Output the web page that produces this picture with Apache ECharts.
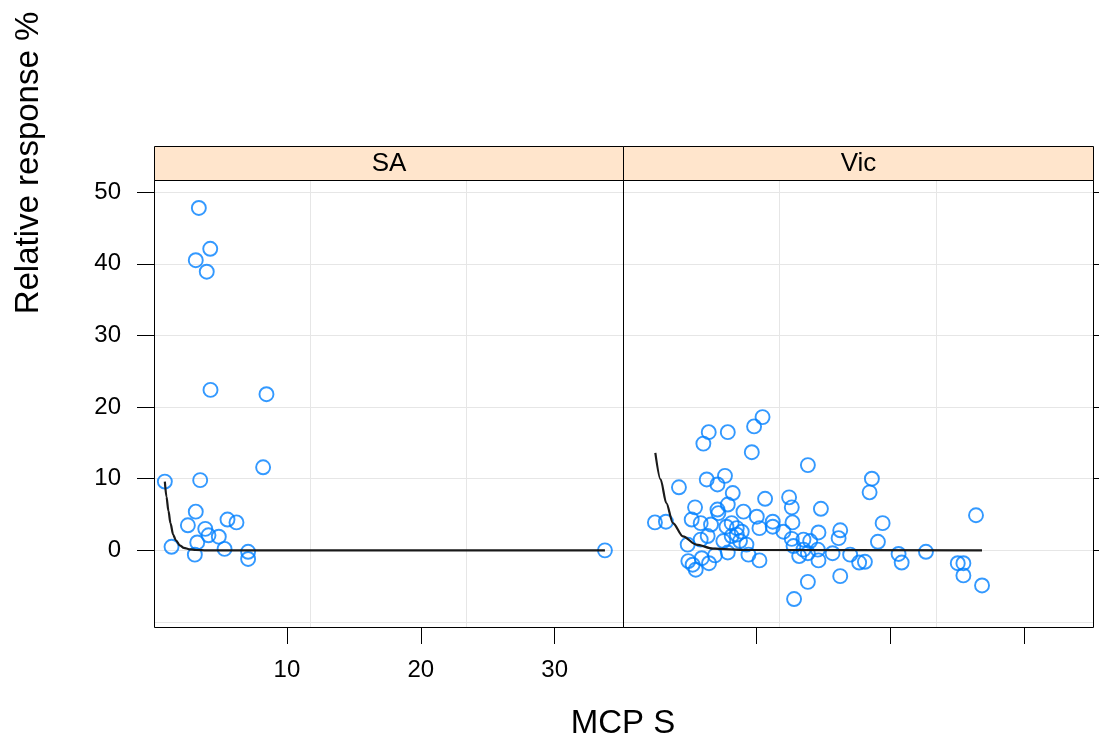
<!DOCTYPE html>
<html>
<head>
<meta charset="utf-8">
<script src="https://cdn.jsdelivr.net/npm/echarts@6/dist/echarts.min.js"></script>
<style>
  html, body { margin: 0; padding: 0; background: #ffffff; }
  #chart { width: 1099px; height: 746px; }
</style>
</head>
<body>
<div id="chart"></div>
<script>
// Panels (one per state)
const panels = ['SA', 'Vic'];

// Tick values
const xTicks = [10, 20, 30];
const yTicks = [0, 10, 20, 30, 40, 50];

// SA observations: MCP S vs relative response %
const saX = [3.42, 4.27, 3.19, 4.01, 4.29, 8.47, 8.22, 0.88, 3.52, 3.19, 2.6, 5.56,
             6.23, 3.9, 4.14, 4.91, 3.3, 1.38, 5.34, 3.12, 7.1, 7.1, 33.75];
const saY = [47.8, 42.1, 40.5, 38.9, 22.4, 21.8, 11.6, 9.6, 9.8, 5.4, 3.5, 4.3,
             3.9, 3.0, 2.1, 1.9, 1.1, 0.5, 0.2, -0.6, -0.2, -1.2, 0.0];

// Vic observations
const vicX = [10.47, 9.84, 6.46, 7.88, 6.06, 9.67, 13.85, 4.24, 6.31, 7.11, 7.67, 8.25,
              10.66, 12.45, 12.65, 14.82, 5.44, 7.88, 7.11, 7.18, 2.45, 3.27, 5.19, 5.86,
              6.63, 9.05, 10.04, 11.23, 12.70, 8.17, 8.55, 8.92, 10.24, 11.23, 12.03, 14.64,
              16.26, 16.14, 4.89, 6.38, 7.55, 8.17, 8.79, 8.55, 12.65, 13.52, 14.02, 12.78,
              13.52, 14.59, 15.69, 17.0, 7.88, 9.42, 10.24, 13.2, 13.85, 14.64, 4.94, 5.26,
              5.49, 5.94, 6.48, 6.93, 13.85, 16.26, 12.82, 17.67, 7.78, 5.86, 9.27,
              18.62, 18.45, 19.42, 19.07, 18.1, 20.61, 20.84, 22.65, 25.02, 25.44, 25.44,
              26.38, 26.83];
const vicY = [18.6, 17.3, 16.5, 16.5, 14.9, 13.7, 11.9, 8.8, 9.9, 9.2, 10.4, 8.0,
              7.2, 7.4, 6.0, 5.8, 6.0, 6.4, 5.7, 5.2, 3.9, 4.0, 4.3, 3.8,
              3.6, 5.4, 4.7, 4.0, 3.9, 3.8, 3.1, 2.6, 3.1, 3.3, 2.6, 2.5,
              2.8, 1.7, 0.8, 2.0, 1.3, 2.0, 1.3, 2.2, 1.6, 1.5, 1.3, 0.6,
              0.1, 0.1, -0.4, -0.6, -0.3, -0.6, -1.4, -0.8, -0.4, -1.4, -1.5, -2.0,
              -2.7, -1.1, -1.8, -0.7, -4.4, -3.6, -6.8, -1.7, 3.3, 1.5, 0.8,
              10.0, 8.1, 3.8, 1.2, -1.6, -0.5, -1.7, -0.2, -1.8, -1.8, -3.5,
              4.9, -4.9];

// Fitted decay curves
const saFitX = [0.88, 1.0, 1.15, 1.3, 1.5, 1.7, 2.0, 2.3, 2.7, 3.2, 4.0, 33.75];
const saFitY = [9.6, 7.5, 5.5, 3.8, 2.2, 1.4, 0.7, 0.35, 0.15, 0.05, 0.0, 0.0];
const vicFitX = [2.48, 2.87, 3.30, 3.79, 4.54, 5.54, 6.78, 9.27, 26.83];
const vicFitY = [13.6, 9.9, 6.6, 3.8, 1.95, 0.8, 0.24, 0.05, 0.0];

// Shared scales
const X_MIN = 0.07, X_MAX = 35.1;
const Y_MIN = -10.7, Y_MAX = 51.7;

// Layout
const FONT = '"Liberation Sans", Arial, sans-serif';
const PANEL_TOP = 180, PANEL_H = 447, STRIP_H = 34;
const PANEL_LEFT = [154, 623], PANEL_W = [469, 470];
const POINT_COLOR = '#0080ff';
const GRID_COLOR = '#e6e6e6';

const zip = (xs, ys) => xs.map((x, i) => [x, ys[i]]);

const grids = panels.map((_, i) => ({
  left: PANEL_LEFT[i], top: PANEL_TOP, width: PANEL_W[i], height: PANEL_H,
  show: false, containLabel: false
}));

const xAxes = [];
const yAxes = [];
panels.forEach((_, i) => {
  // scale axis with ticks (labels on the first panel only)
  xAxes.push({
    type: 'value', gridIndex: i, min: X_MIN, max: X_MAX, position: 'bottom',
    axisLine: { show: false, onZero: false },
    axisTick: { show: true, customValues: xTicks, length: 17, lineStyle: { color: '#000', width: 1 } },
    axisLabel: {
      show: i === 0, customValues: xTicks, margin: 31,
      fontFamily: FONT, fontSize: 24, color: '#000'
    },
    splitLine: { show: false }
  });
  yAxes.push({
    type: 'value', gridIndex: i, min: Y_MIN, max: Y_MAX,
    position: i === 0 ? 'left' : 'right',
    axisLine: { show: false, onZero: false },
    axisTick: { show: true, customValues: yTicks, length: i === 0 ? 17 : 10, lineStyle: { color: '#000', width: 1 } },
    axisLabel: {
      show: i === 0, customValues: yTicks, margin: 33,
      fontFamily: FONT, fontSize: 24, color: '#000'
    },
    splitLine: { show: false }
  });
});
panels.forEach((_, i) => {
  // background reference grid
  xAxes.push({
    type: 'value', gridIndex: i, min: 0, max: 3, interval: 1,
    axisLine: { show: false, onZero: false }, axisTick: { show: false }, axisLabel: { show: false },
    splitLine: { show: true, lineStyle: { color: GRID_COLOR, width: 1 } }
  });
  yAxes.push({
    type: 'value', gridIndex: i, min: Y_MIN, max: Y_MAX,
    axisLine: { show: false, onZero: false }, axisTick: { show: false }, axisLabel: { show: false },
    splitLine: { show: true, lineStyle: { color: GRID_COLOR, width: 1 } }
  });
});

const pointStyle = {
  color: 'rgba(0,0,0,0)', borderColor: POINT_COLOR, borderWidth: 1.9
};

const series = [
  {
    type: 'scatter', xAxisIndex: 0, yAxisIndex: 0, data: zip(saX, saY),
    symbol: 'circle', symbolSize: 14, itemStyle: pointStyle, z: 2
  },
  {
    type: 'line', xAxisIndex: 0, yAxisIndex: 0, data: zip(saFitX, saFitY),
    showSymbol: false, smooth: 0.3, smoothMonotone: 'x',
    lineStyle: { color: '#1a1a1a', width: 2.2 }, z: 3
  },
  {
    type: 'scatter', xAxisIndex: 1, yAxisIndex: 1, data: zip(vicX, vicY),
    symbol: 'circle', symbolSize: 14, itemStyle: pointStyle, z: 2
  },
  {
    type: 'line', xAxisIndex: 1, yAxisIndex: 1, data: zip(vicFitX, vicFitY),
    showSymbol: false, smooth: 0.3, smoothMonotone: 'x',
    lineStyle: { color: '#1a1a1a', width: 2.2 }, z: 3
  }
];

// Strips, panel frames and axis titles
const graphic = [];
panels.forEach((name, i) => {
  const l = PANEL_LEFT[i] + 0.5, w = PANEL_W[i];
  graphic.push({
    type: 'rect', z: 100,
    shape: { x: l, y: PANEL_TOP - STRIP_H + 0.5, width: w, height: STRIP_H },
    style: { fill: '#ffe5cc', stroke: '#000', lineWidth: 1 }
  });
  graphic.push({
    type: 'text', z: 101,
    x: l + w / 2, y: PANEL_TOP - STRIP_H / 2 + 1,
    style: {
      text: name, fill: '#000', font: '26px ' + FONT,
      textAlign: 'center', textVerticalAlign: 'middle'
    }
  });
  graphic.push({
    type: 'rect', z: 100,
    shape: { x: l, y: PANEL_TOP + 0.5, width: w, height: PANEL_H },
    style: { fill: 'none', stroke: '#000', lineWidth: 1 }
  });
});
graphic.push({
  type: 'text', z: 101, x: 623, y: 724,
  style: {
    text: 'MCP S', fill: '#000', font: '33px ' + FONT,
    textAlign: 'center', textVerticalAlign: 'middle'
  }
});
graphic.push({
  type: 'text', z: 101, x: 29, y: 163, rotation: Math.PI / 2,
  style: {
    text: 'Relative response %', fill: '#000', font: '33px ' + FONT,
    textAlign: 'center', textVerticalAlign: 'middle'
  }
});

const chart = echarts.init(document.getElementById('chart'), null, { renderer: 'canvas' });
chart.setOption({
  backgroundColor: '#ffffff',
  animation: false,
  grid: grids,
  xAxis: xAxes,
  yAxis: yAxes,
  series: series,
  graphic: graphic
});
</script>
</body>
</html>
